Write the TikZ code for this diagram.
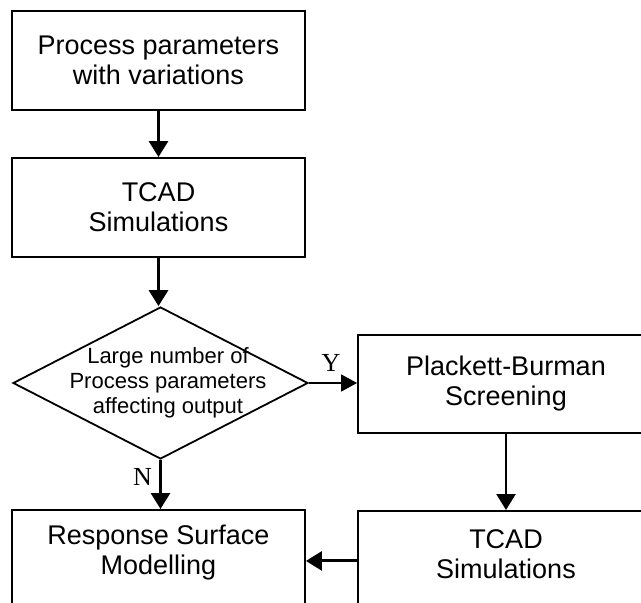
\documentclass[tikz,border=0pt]{standalone}
\usepackage{fontspec}
\setmainfont{Liberation Sans}
\newfontfamily\ynfont{Liberation Serif}
\usetikzlibrary{shapes.geometric,arrows.meta}

\tikzset{
  box/.style={draw, line width=1.9pt, minimum width=293pt, minimum height=99pt,
              inner sep=0pt, align=center, font=\fontsize{27}{30}\selectfont},
  boxtext/.style={align=center, inner sep=0pt, font=\fontsize{27}{30}\selectfont},
  decision/.style={draw, shape=diamond, line width=1.8pt, minimum width=295pt,
              minimum height=152pt, inner sep=0pt},
  dectext/.style={align=center, inner sep=0pt, font=\fontsize{22}{25}\selectfont},
  flow/.style={line width=3pt, -{Triangle[length=16pt,width=19pt]}},
  thinflow/.style={line width=1.7pt, -{Triangle[length=16pt,width=17pt]}},
  yn/.style={inner sep=0pt, font=\ynfont\fontsize{26}{28}\selectfont}
}

\begin{document}
\begin{tikzpicture}[x=1pt, y=-1pt]
  \useasboundingbox (0,0) rectangle (641,603);
  \clip (0,0) rectangle (641,603);

  % left column
  \node[box] (params) at (158.5,60.5) {Process parameters\\with variations};
  \node[box] (tcadA) at (158.5,207.5) {TCAD\\Simulations};
  \node[decision] (check) at (160.5,383) {};
  \node[dectext] (checktext) at (168,383) {Large number of\\Process parameters\\affecting output};
  \node[box, anchor=north, minimum height=100pt] (rsm) at (158.5,509) {};
  \node[boxtext] (rsmtext) at (158.5,553) {Response Surface\\Modelling};

  % right column
  \node[box, minimum width=296pt, minimum height=98pt] (pb) at (506,384) {Plackett-Burman\\Screening};
  \node[box, anchor=north, minimum width=296pt, minimum height=100pt] (tcadB) at (506,510) {};
  \node[boxtext] (tcadBtext) at (506,554) {TCAD\\Simulations};

  % connectors
  \draw[flow] (params.south) -- (tcadA.north);
  \draw[flow] (tcadA.south) -- (tcadA.south |- check.north);
  \draw[flow] (check.south) -- (check.south |- rsm.north);
  \draw[thinflow] (check.east) -- (check.east -| pb.west);
  \draw[line width=2.4pt, -{Triangle[length=16pt,width=19pt]}] (pb.south) -- (tcadB.north);
  \draw[flow] (tcadB.west) -- (tcadB.west -| rsm.east);

  % branch labels
  \node[yn] (yes) at (331,363) {Y};
  \node[yn] (no) at (142.5,477) {N};
\end{tikzpicture}
\end{document}
